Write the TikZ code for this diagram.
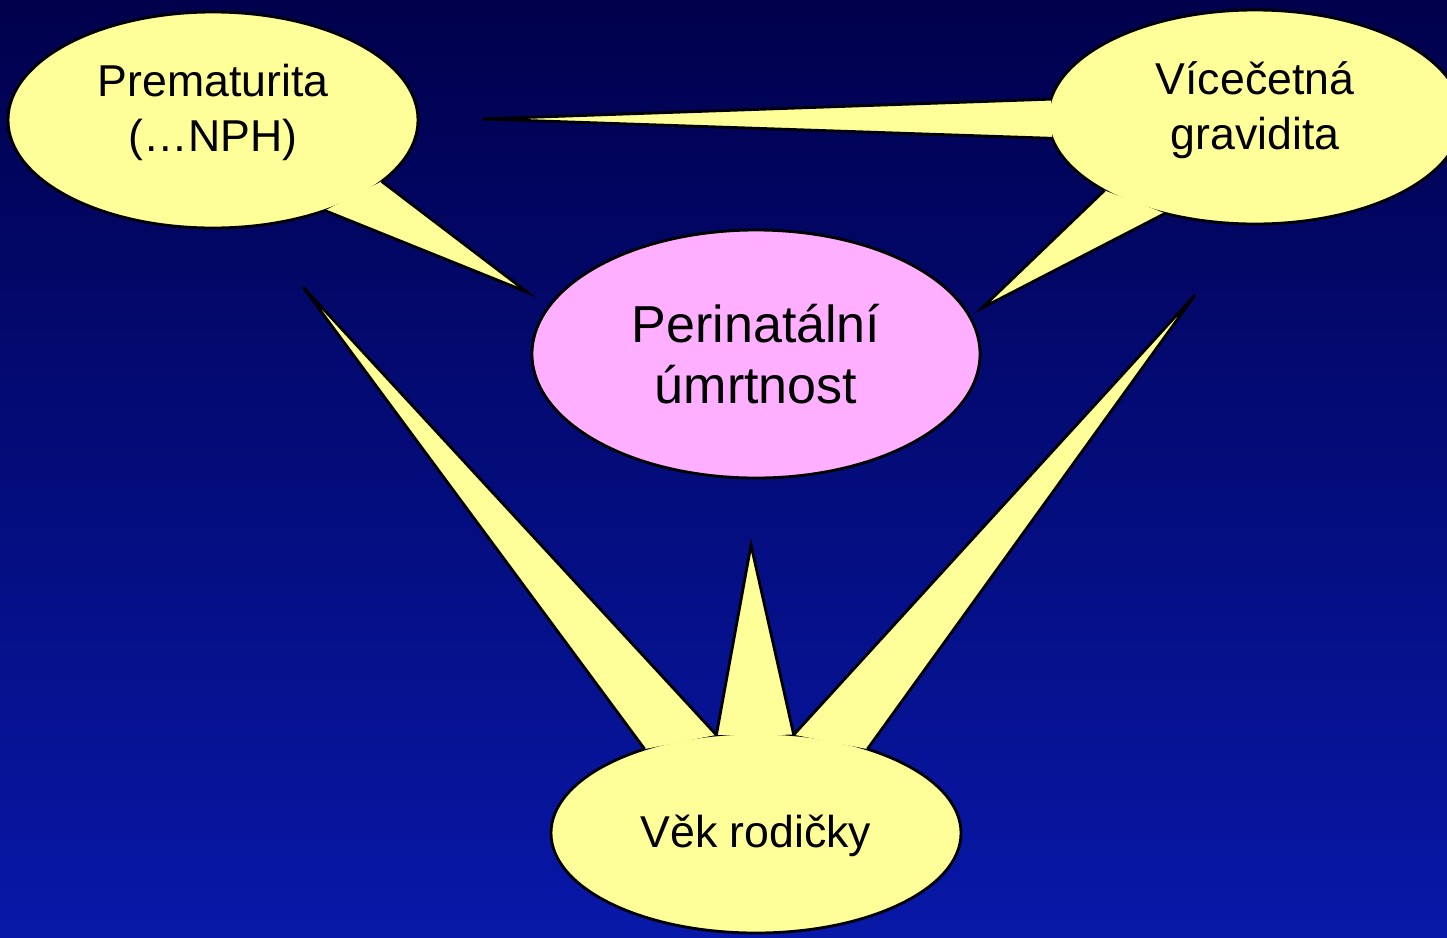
\documentclass[tikz,border=0pt]{standalone}
\usepackage{fontspec}
\setmainfont{Liberation Sans}
\usetikzlibrary{shapes.geometric}

\definecolor{bubble}{HTML}{FFFF99}
\definecolor{rose}{HTML}{FFAFFF}
\definecolor{navytop}{HTML}{00004C}
\definecolor{navymid}{HTML}{000098}
\definecolor{navybot}{HTML}{0818A8}

\tikzset{
  bub/.style={ellipse, draw=black, line width=0.8pt, fill=bubble, outer sep=0pt, inner sep=0pt,
    align=center, font=\fontsize{12.7}{15.6}\selectfont},
  spikefill/.style={fill=bubble},
  spikeline/.style={draw=black, line width=0.8pt},
}

\begin{document}
\begin{tikzpicture}
  \useasboundingbox (0,0) rectangle (14.47,9.37);
  \clip (0,0) rectangle (14.47,9.37);
  \shade[top color=navytop, middle color=navymid, bottom color=navybot] (0,0) rectangle (14.47,9.37);

  \node[bub, minimum width=4.1cm, minimum height=2.16cm, text depth=0.25cm] (prem) at (2.13,8.17) {Prematurita\\(…NPH)};
  \node[bub, minimum width=4.14cm, minimum height=2.14cm, text depth=0.23cm] (vic) at (12.55,8.2) {Vícečetná\\gravidita};
  \node[bub, fill=rose, minimum width=4.48cm, minimum height=2.48cm, font=\fontsize{14.8}{17.4}\selectfont] (peri) at (7.56,5.83) {Perinatální\\úmrtnost};
  \node[bub, minimum width=4.1cm, minimum height=2cm, text height=0.38cm] (vek) at (7.56,1.04) {Věk rodičky};

  \coordinate (premTip) at (5.27,6.45);
  \coordinate (vicTipA) at (4.82,8.18);
  \coordinate (vicTipB) at (9.82,6.29);
  \coordinate (vekTipA) at (3.03,6.5);
  \coordinate (vekTipB) at (7.51,3.92);
  \coordinate (vekTipC) at (11.95,6.42);

  \foreach \n/\a/\b/\t in {prem/340/321/premTip, vic/175/186/vicTipA, vic/206/227/vicTipB,
      vek/143/112/vekTipA, vek/112/69/vekTipB, vek/69/37/vekTipC}
  {
    \fill[spikefill] (\n.\a) -- (\t) -- (\n.\b) -- cycle;
    \draw[spikeline] (\n.\a) -- (\t) -- (\n.\b);
  }
\end{tikzpicture}
\end{document}
